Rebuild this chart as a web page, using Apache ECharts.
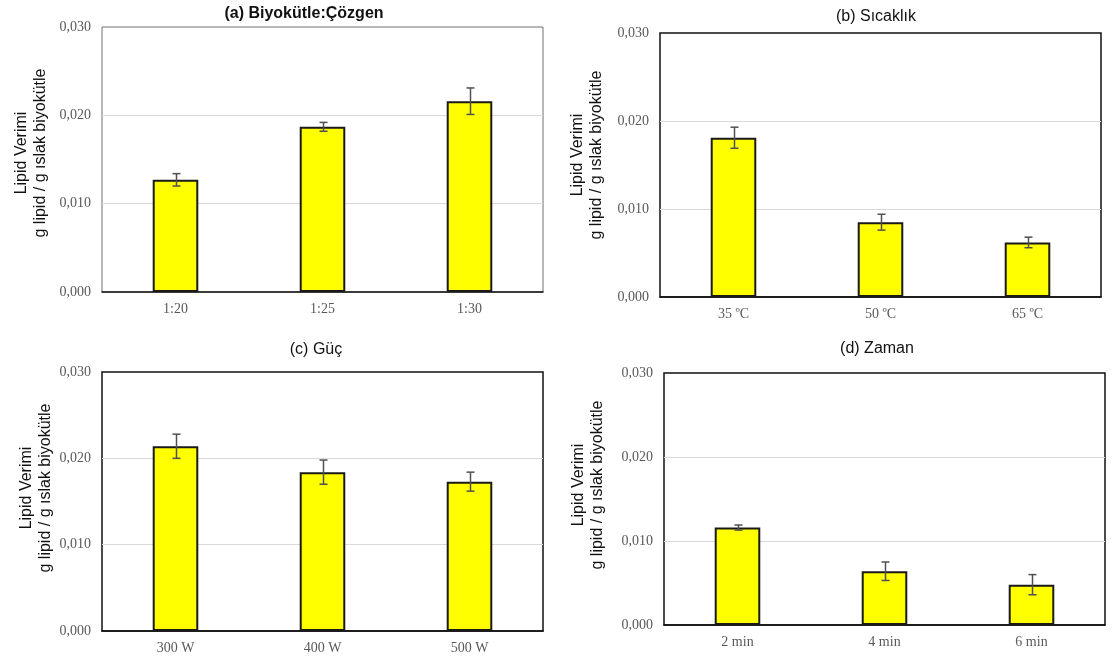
<!DOCTYPE html>
<html><head><meta charset="utf-8">
<script src="https://cdn.jsdelivr.net/npm/echarts@6/dist/echarts.min.js"></script>
<style>html,body{margin:0;padding:0;background:#fff}#c{width:1117px;height:659px}</style>
</head><body><div id="c"></div>
<script>
const titles = ['(a) Biyokütle:Çözgen', '(b) Sıcaklık', '(c) Güç', '(d) Zaman'];
const catA = ['1:20', '1:25', '1:30'];
const valA = [0.0127, 0.0187, 0.0216];
const errA = [0.0007, 0.0005, 0.0015];
const catB = ['35 ºC', '50 ºC', '65 ºC'];
const valB = [0.0181, 0.0085, 0.0062];
const errB = [0.0012, 0.0009, 0.0006];
const catC = ['300 W', '400 W', '500 W'];
const valC = [0.0214, 0.0184, 0.0173];
const errC = [0.0014, 0.0014, 0.0011];
const catD = ['2 min', '4 min', '6 min'];
const valD = [0.0116, 0.0064, 0.0048];
const errD = [0.0003, 0.0011, 0.0012];
const yName = 'Lipid Verimi\ng lipid / g ıslak biyokütle';
const yMin = 0, yMax = 0.03, yStep = 0.01;

const cats = [catA, catB, catC, catD];
const vals = [valA, valB, valC, valD];
const errs = [errA, errB, errC, errD];

const layout = [
  {left: 102, top: 27, width: 441, height: 265, tx: 304, ty: 6, bold: true, border: '#707070', bw: 1, nx: 31, ny: 153},
  {left: 660, top: 33, width: 441, height: 264, tx: 876, ty: 9, bold: false, border: '#111', bw: 1.5, nx: 587, ny: 155},
  {left: 102, top: 372, width: 441, height: 259, tx: 316, ty: 342, bold: false, border: '#111', bw: 1.5, nx: 36, ny: 488},
  {left: 664, top: 373, width: 441, height: 252, tx: 877, ty: 341, bold: false, border: '#111', bw: 1.5, nx: 588, ny: 485}
];

const grid = [], xAxis = [], yAxis = [], series = [], title = [], graphic = [];
layout.forEach((L, i) => {
  grid.push({left: L.left, top: L.top, width: L.width, height: L.height, show: true,
    borderColor: L.border, borderWidth: L.bw, backgroundColor: 'transparent'});
  title.push({text: titles[i], left: L.tx, top: L.ty, textAlign: 'center', padding: 0,
    textStyle: {fontFamily: 'Liberation Sans', fontSize: 16, fontWeight: L.bold ? 'bold' : 'normal', color: '#111'}});
  graphic.push({type: 'text', x: L.nx, y: L.ny, rotation: Math.PI / 2, silent: true,
    style: {text: yName, fill: '#111', font: '16px "Liberation Sans"', align: 'center',
      verticalAlign: 'middle', lineHeight: 19}});
  xAxis.push({type: 'category', gridIndex: i, data: cats[i],
    axisLine: {show: true, lineStyle: {color: '#111', width: 1.5}},
    axisTick: {show: false},
    axisLabel: {fontFamily: 'Liberation Serif', fontSize: 14, color: '#595959', margin: 10}});
  yAxis.push({type: 'value', gridIndex: i, min: yMin, max: yMax, interval: yStep,
    axisLine: {show: false}, axisTick: {show: false},
    splitLine: {show: true, lineStyle: {color: '#d9d9d9', width: 1},
      showMinLine: false, showMaxLine: false},
    axisLabel: {fontFamily: 'Liberation Serif', fontSize: 14, color: '#595959', margin: 11,
      formatter: v => v.toFixed(3).replace('.', ',')}});
  series.push({type: 'bar', xAxisIndex: i, yAxisIndex: i, data: vals[i], barWidth: '31%',
    itemStyle: {color: '#ffff00', borderColor: '#1a1a1a', borderWidth: 2}, z: 2});
  series.push({type: 'custom', xAxisIndex: i, yAxisIndex: i, z: 5,
    data: vals[i].map((v, k) => [k, v - errs[i][k], v + errs[i][k]]),
    renderItem: (params, api) => {
      const lo = api.coord([api.value(0), api.value(1)]);
      const hi = api.coord([api.value(0), api.value(2)]);
      const x = Math.round(lo[0]) + 0.5, h = 4;
      const st = {stroke: '#505050', lineWidth: 1.5};
      return {type: 'group', children: [
        {type: 'line', shape: {x1: x, y1: lo[1], x2: x, y2: hi[1]}, style: st},
        {type: 'line', shape: {x1: x - h, y1: lo[1], x2: x + h, y2: lo[1]}, style: st},
        {type: 'line', shape: {x1: x - h, y1: hi[1], x2: x + h, y2: hi[1]}, style: st}
      ]};
    }});
});

const chart = echarts.init(document.getElementById('c'), null, {renderer: 'canvas'});
chart.setOption({animation: false, backgroundColor: '#fff', title, grid, xAxis, yAxis, series, graphic});
</script></body></html>
